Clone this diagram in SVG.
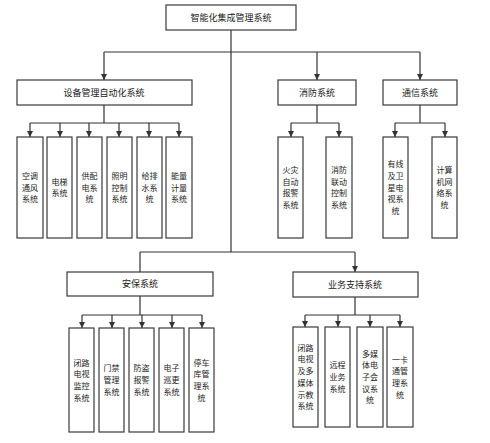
<svg xmlns="http://www.w3.org/2000/svg" width="490" height="443" viewBox="0 0 490 443">
<defs>
<marker id="ah" viewBox="0 0 10 10" refX="10" refY="5" markerWidth="6" markerHeight="6" markerUnits="userSpaceOnUse" orient="auto"><path d="M0,0 L10,5 L0,10 z" fill="#333"/></marker>
</defs>
<style>
rect{fill:#fff;stroke:#3a3a3a;stroke-width:1.2}
text{font-family:"Noto Sans CJK SC","Noto Sans CJK JP",sans-serif;fill:#222;text-anchor:middle}
.h{font-size:9px}
.c{font-size:8px}
#edges path{fill:none;stroke:#333;stroke-width:1.2}
.a{marker-end:url(#ah)}
</style>
<rect x="0" y="0" width="490" height="443" style="fill:#fff;stroke:none"/>
<g id="edges">
<path d="M231,30 V252"/>
<path d="M104,52 H420"/>
<path class="a" d="M104,52 V80"/>
<path class="a" d="M317,52 V80"/>
<path class="a" d="M420,52 V80"/>
<path d="M104,105 V123 M30,123 H179"/>
<path class="a" d="M30,123 V137"/><path class="a" d="M60,123 V137"/><path class="a" d="M89,123 V137"/><path class="a" d="M119,123 V137"/><path class="a" d="M149,123 V137"/><path class="a" d="M179,123 V137"/>
<path d="M317,105 V123 M291,123 H339"/>
<path class="a" d="M291,123 V137"/><path class="a" d="M339,123 V137"/>
<path d="M420,105 V123 M395,123 H445"/>
<path class="a" d="M395,123 V137"/><path class="a" d="M445,123 V137"/>
<path d="M140,252 H355 M140,252 V272"/>
<path class="a" d="M355,252 V272"/>
<path d="M140,296 V315 M82,315 H202"/>
<path class="a" d="M82,315 V328"/><path class="a" d="M112,315 V328"/><path class="a" d="M142,315 V328"/><path class="a" d="M172,315 V328"/><path class="a" d="M202,315 V328"/>
<path d="M355,297 V315 M305,315 H400"/>
<path class="a" d="M305,315 V327"/><path class="a" d="M338,315 V327"/><path class="a" d="M370,315 V327"/><path class="a" d="M400,315 V327"/>
</g>
<g id="root"><rect x="166" y="5" width="130" height="25"/><text class="h" x="231" y="21">智能化集成管理系统</text></g>
<g id="equip"><rect x="17" y="80" width="175" height="25"/><text class="h" x="104" y="96">设备管理自动化系统</text></g>
<g id="fire"><rect x="278" y="80" width="78" height="25"/><text class="h" x="317" y="96">消防系统</text></g>
<g id="comm"><rect x="383" y="80" width="74" height="25"/><text class="h" x="420" y="96">通信系统</text></g>
<g id="security"><rect x="67" y="272" width="146" height="24"/><text class="h" x="140" y="287">安保系统</text></g>
<g id="business"><rect x="293" y="272" width="125" height="25"/><text class="h" x="355" y="288">业务支持系统</text></g>

<g id="e1"><rect x="17" y="137" width="26" height="101"/><text class="c"><tspan x="30" y="178.8">空调</tspan><tspan x="30" dy="11.7">通风</tspan><tspan x="30" dy="11.7">系统</tspan></text></g>
<g id="e2"><rect x="47" y="137" width="25" height="101"/><text class="c"><tspan x="59.5" y="184.6">电梯</tspan><tspan x="59.5" dy="11.7">系统</tspan></text></g>
<g id="e3"><rect x="77" y="137" width="25" height="101"/><text class="c"><tspan x="89.5" y="178.8">供配</tspan><tspan x="89.5" dy="11.7">电系</tspan><tspan x="89.5" dy="11.7">统</tspan></text></g>
<g id="e4"><rect x="107" y="137" width="25" height="101"/><text class="c"><tspan x="119.5" y="178.8">照明</tspan><tspan x="119.5" dy="11.7">控制</tspan><tspan x="119.5" dy="11.7">系统</tspan></text></g>
<g id="e5"><rect x="137" y="137" width="25" height="101"/><text class="c"><tspan x="149.5" y="178.8">给排</tspan><tspan x="149.5" dy="11.7">水系</tspan><tspan x="149.5" dy="11.7">统</tspan></text></g>
<g id="e6"><rect x="166" y="137" width="26" height="101"/><text class="c"><tspan x="179" y="178.8">能量</tspan><tspan x="179" dy="11.7">计量</tspan><tspan x="179" dy="11.7">系统</tspan></text></g>

<g id="f1"><rect x="278" y="137" width="25" height="101"/><text class="c"><tspan x="290.5" y="173">火灾</tspan><tspan x="290.5" dy="11.7">自动</tspan><tspan x="290.5" dy="11.7">报警</tspan><tspan x="290.5" dy="11.7">系统</tspan></text></g>
<g id="f2"><rect x="326" y="137" width="26" height="101"/><text class="c"><tspan x="339" y="173">消防</tspan><tspan x="339" dy="11.7">联动</tspan><tspan x="339" dy="11.7">控制</tspan><tspan x="339" dy="11.7">系统</tspan></text></g>

<g id="c1"><rect x="383" y="137" width="25" height="101"/><text class="c"><tspan x="395.5" y="167.1">有线</tspan><tspan x="395.5" dy="11.7">及卫</tspan><tspan x="395.5" dy="11.7">星电</tspan><tspan x="395.5" dy="11.7">视系</tspan><tspan x="395.5" dy="11.7">统</tspan></text></g>
<g id="c2"><rect x="432" y="137" width="25" height="101"/><text class="c"><tspan x="444.5" y="173">计算</tspan><tspan x="444.5" dy="11.7">机网</tspan><tspan x="444.5" dy="11.7">络系</tspan><tspan x="444.5" dy="11.7">统</tspan></text></g>

<g id="s1"><rect x="69" y="328" width="25" height="104"/><text class="c"><tspan x="81.5" y="365.5">闭路</tspan><tspan x="81.5" dy="11.7">电视</tspan><tspan x="81.5" dy="11.7">监控</tspan><tspan x="81.5" dy="11.7">系统</tspan></text></g>
<g id="s2"><rect x="99" y="328" width="25" height="104"/><text class="c"><tspan x="111.5" y="371.3">门禁</tspan><tspan x="111.5" dy="11.7">管理</tspan><tspan x="111.5" dy="11.7">系统</tspan></text></g>
<g id="s3"><rect x="129" y="328" width="25" height="104"/><text class="c"><tspan x="141.5" y="371.3">防盗</tspan><tspan x="141.5" dy="11.7">报警</tspan><tspan x="141.5" dy="11.7">系统</tspan></text></g>
<g id="s4"><rect x="159" y="328" width="25" height="104"/><text class="c"><tspan x="171.5" y="371.3">电子</tspan><tspan x="171.5" dy="11.7">巡更</tspan><tspan x="171.5" dy="11.7">系统</tspan></text></g>
<g id="s5"><rect x="189" y="328" width="25" height="104"/><text class="c"><tspan x="201.5" y="365.5">停车</tspan><tspan x="201.5" dy="11.7">库管</tspan><tspan x="201.5" dy="11.7">理系</tspan><tspan x="201.5" dy="11.7">统</tspan></text></g>

<g id="b1"><rect x="293" y="327" width="25" height="100"/><text class="c"><tspan x="305.5" y="350.7">闭路</tspan><tspan x="305.5" dy="11.7">电视</tspan><tspan x="305.5" dy="11.7">及多</tspan><tspan x="305.5" dy="11.7">媒体</tspan><tspan x="305.5" dy="11.7">示教</tspan><tspan x="305.5" dy="11.7">系统</tspan></text></g>
<g id="b2"><rect x="325" y="327" width="25" height="100"/><text class="c"><tspan x="337.5" y="368.3">远程</tspan><tspan x="337.5" dy="11.7">业务</tspan><tspan x="337.5" dy="11.7">系统</tspan></text></g>
<g id="b3"><rect x="357" y="327" width="26" height="100"/><text class="c"><tspan x="370" y="356.6">多媒</tspan><tspan x="370" dy="11.7">体电</tspan><tspan x="370" dy="11.7">子会</tspan><tspan x="370" dy="11.7">议系</tspan><tspan x="370" dy="11.7">统</tspan></text></g>
<g id="b4"><rect x="387" y="327" width="26" height="100"/><text class="c"><tspan x="400" y="362.5">一卡</tspan><tspan x="400" dy="11.7">通管</tspan><tspan x="400" dy="11.7">理系</tspan><tspan x="400" dy="11.7">统</tspan></text></g>
</svg>
